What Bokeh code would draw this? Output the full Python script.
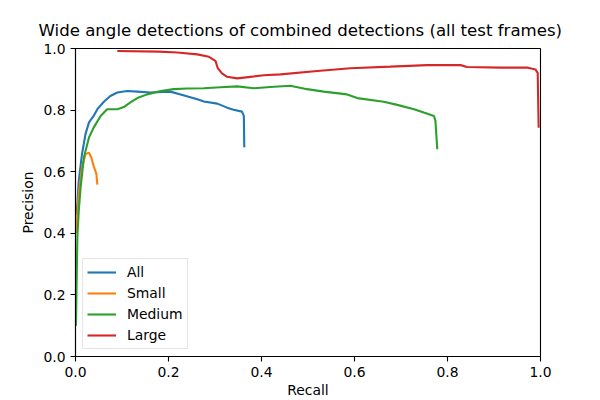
from bokeh.plotting import figure
from bokeh.models import Range1d, FixedTicker, Legend, LegendItem, LinearAxis
from bokeh.embed import file_html
from bokeh.resources import INLINE

title_text = "Wide angle detections of combined detections (all test frames)"
x_label = "Recall"
y_label = "Precision"
tick_values = [0.0, 0.2, 0.4, 0.6, 0.8, 1.0]
tick_labels = ["0.0", "0.2", "0.4", "0.6", "0.8", "1.0"]
series_names = ["All", "Small", "Medium", "Large"]
series_colors = ["#1f77b4", "#ff7f0e", "#2ca02c", "#d62728"]

all_recall = [0.001, 0.004, 0.007, 0.014, 0.0215, 0.029, 0.039, 0.047, 0.061, 0.075, 0.090,
              0.111, 0.133, 0.161, 0.204, 0.226, 0.262, 0.276, 0.305, 0.326, 0.340, 0.358,
              0.362, 0.363]
all_precision = [0.46, 0.495, 0.57, 0.657, 0.722, 0.76, 0.781, 0.803, 0.827, 0.846, 0.857,
                 0.862, 0.860, 0.857, 0.860, 0.851, 0.835, 0.828, 0.821, 0.808, 0.801, 0.795,
                 0.781, 0.679]

small_recall = [0.002, 0.004, 0.007, 0.014, 0.0215, 0.029, 0.034, 0.039, 0.045, 0.047]
small_precision = [0.40, 0.46, 0.527, 0.614, 0.657, 0.662, 0.646, 0.619, 0.592, 0.558]

medium_recall = [0.001, 0.002, 0.004, 0.007, 0.011, 0.018, 0.029, 0.039, 0.054, 0.068,
                 0.090, 0.104, 0.118, 0.133, 0.154, 0.183, 0.211, 0.240, 0.276, 0.312,
                 0.348, 0.383, 0.419, 0.462, 0.498, 0.534, 0.584, 0.606, 0.663, 0.692,
                 0.728, 0.749, 0.771, 0.774, 0.778]
medium_precision = [0.10, 0.20, 0.387, 0.473, 0.549, 0.646, 0.711, 0.743, 0.781, 0.803,
                    0.803, 0.810, 0.825, 0.839, 0.851, 0.862, 0.868, 0.870, 0.871, 0.874,
                    0.877, 0.871, 0.875, 0.879, 0.868, 0.860, 0.851, 0.839, 0.827, 0.817,
                    0.803, 0.792, 0.781, 0.765, 0.673]

large_recall = [0.090, 0.179, 0.219, 0.262, 0.287, 0.301, 0.306, 0.315, 0.326, 0.348, 0.376,
                0.405, 0.441, 0.520, 0.591, 0.677, 0.756, 0.828, 0.842, 0.914, 0.971, 0.989,
                0.994, 0.996]
large_precision = [0.992, 0.990, 0.987, 0.981, 0.973, 0.960, 0.936, 0.919, 0.908, 0.903, 0.908,
                   0.913, 0.916, 0.927, 0.936, 0.941, 0.946, 0.946, 0.940, 0.938, 0.938, 0.932,
                   0.921, 0.743]

series_x = [all_recall, small_recall, medium_recall, large_recall]
series_y = [all_precision, small_precision, medium_precision, large_precision]

FONT = "DejaVu Sans"

p = figure(width=600, height=400, output_backend="svg", toolbar_location=None,
           x_range=Range1d(0, 1), y_range=Range1d(0, 1),
           min_border_left=75, min_border_right=60, min_border_top=48, min_border_bottom=44,
           title=title_text)

xa = p.below[0]
ya = p.left[0]

p.title.text_font = FONT
p.title.text_font_size = "16.6px"
p.title.text_font_style = "normal"
p.title.text_color = "black"
p.title.align = "left"
p.title.vertical_align = "top"
p.title.offset = -37
p.title.standoff = 14

p.xgrid.visible = False
p.ygrid.visible = False
p.outline_line_color = "black"
p.outline_line_width = 1.1
p.outline_line_alpha = 1.0
p.background_fill_color = "white"
p.border_fill_color = "white"

for ax in (xa, ya):
    ax.ticker = FixedTicker(ticks=tick_values)
    ax.major_label_overrides = {v: s for v, s in zip(tick_values, tick_labels)}
    ax.major_label_text_font = FONT
    ax.major_label_text_font_size = "13.9px"
    ax.major_label_text_color = "black"
    ax.axis_label_text_font = FONT
    ax.axis_label_text_font_size = "13.9px"
    ax.axis_label_text_font_style = "normal"
    ax.axis_label_text_color = "black"
    ax.major_tick_in = 0
    ax.major_tick_out = 5
    ax.major_tick_line_width = 1.1
    ax.minor_tick_line_color = None
    ax.axis_line_width = 1.1
    ax.axis_line_color = "black"

xa.axis_label = x_label
ya.axis_label = y_label
xa.major_label_standoff = 5
xa.axis_label_standoff = 2
ya.major_label_standoff = 5
ya.axis_label_standoff = 4

# invisible spacer axis above the frame: lifts the title like a figure suptitle
spacer = LinearAxis(ticker=FixedTicker(ticks=[]), axis_line_color=None,
                    major_tick_line_color=None, minor_tick_line_color=None,
                    major_tick_in=0, major_tick_out=15, minor_tick_in=0, minor_tick_out=0,
                    major_label_standoff=0)
p.add_layout(spacer, "above")

items = []
for name, color, xs, ys in zip(series_names, series_colors, series_x, series_y):
    r = p.line(xs, ys, line_color=color, line_width=2.1)
    items.append(LegendItem(label=name, renderers=[r]))

legend = Legend(items=items, location="bottom_left")
legend.margin = 7
legend.padding = 4
legend.spacing = 3
legend.glyph_width = 29
legend.glyph_height = 18
legend.label_height = 18
legend.label_standoff = 11
legend.label_text_font = FONT
legend.label_text_font_size = "13.9px"
legend.label_text_color = "black"
legend.border_line_color = "#cccccc"
legend.border_line_width = 1
legend.background_fill_color = "white"
legend.background_fill_alpha = 0.8
p.add_layout(legend, "center")

open("out.html", "w").write(file_html(p, INLINE))
